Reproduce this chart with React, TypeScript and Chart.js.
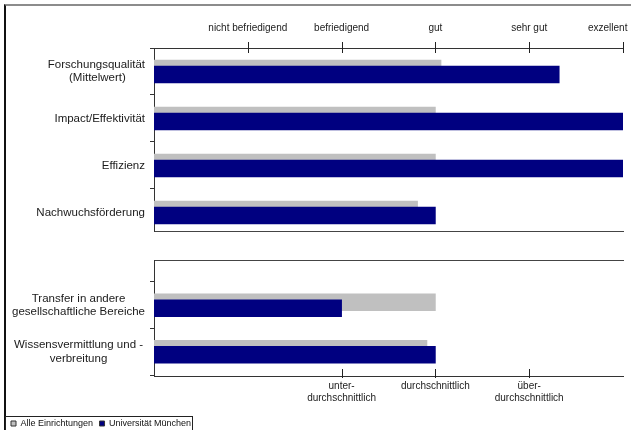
import React, { useEffect, useRef } from 'react';
import { Chart, registerables } from 'chart.js';

Chart.register(...registerables);

const FONT = 'Arial, "Liberation Sans", Helvetica, sans-serif';

// Upper panel: ratings on a five-step scale
const RATING_CATEGORIES = ['Forschungsqualität\n(Mittelwert)', 'Impact/Effektivität', 'Effizienz', 'Nachwuchsförderung'];
const RATING_ALL = [3.06, 3.0, 3.0, 2.81];
const RATING_LMU = [4.32, 5.0, 5.0, 3.0];
const RATING_TICKS = ['nicht befriedigend', 'befriedigend', 'gut', 'sehr gut', 'exzellent']; // values 1..5

// Lower panel: comparison with the average
const BENCH_CATEGORIES = ['Transfer in andere\ngesellschaftliche Bereiche', 'Wissensvermittlung und -\nverbreitung'];
const BENCH_ALL = [3.0, 2.91];
const BENCH_LMU = [2.0, 3.0];
const BENCH_TICKS = ['unter-\ndurchschnittlich', 'durchschnittlich', 'über-\ndurchschnittlich']; // values 2..4
const BENCH_FIRST = 2;

const SERIES = ['Alle Einrichtungen', 'Universität München'];
const COLORS = ['#c0c0c0', '#000080'];

const Y_FONT = { family: FONT, size: 11.5, lineHeight: 1.15 };
const Y_FONT_STRING = `11.5px ${FONT}`;
const BAR_PX = 17;
const BAR_SHIFT_PX = 3;

let measureCtx: CanvasRenderingContext2D | null = null;
// Pad shorter lines so a right-aligned multi-line label reads as centred
function centreUnderRightAlign(lines: string[]): string[] {
  if (lines.length < 2) return lines;
  if (!measureCtx) measureCtx = document.createElement('canvas').getContext('2d');
  const ctx = measureCtx!;
  ctx.font = Y_FONT_STRING;
  const widths = lines.map((l) => ctx.measureText(l).width);
  const max = Math.max(...widths);
  const nb = ctx.measureText('\u00a0').width;
  return lines.map((l, i) => l + '\u00a0'.repeat(Math.round((max - widths[i]) / 2 / nb)));
}

const isWhole = (v: number) => Math.abs(v - Math.round(v)) < 1e-6;

// tick positions: category centres plus the band boundaries between them
function bandTicks(count: number, max: number) {
  const out: { value: number }[] = [];
  for (let i = 0; i < count; i++) out.push({ value: i - 0.5 }, { value: i });
  if (count - 0.5 <= max) out.push({ value: count - 0.5 });
  return out;
}

// short tick marks crossing the value axis at labelled positions
const crossTicks = {
  id: 'crossTicks',
  afterDraw(chart: any, _a: any, opts: any) {
    if (!opts || !opts.axis) return;
    const scale = chart.scales[opts.axis];
    const ctx = chart.ctx;
    const base = scale.position === 'top' ? scale.bottom : scale.top;
    ctx.save();
    ctx.strokeStyle = opts.color;
    ctx.lineWidth = 1;
    ctx.beginPath();
    scale.ticks.forEach((t: any) => {
      const has = Array.isArray(t.label) ? t.label.length > 0 : !!t.label;
      if (!has) return;
      const x = Math.round(scale.getPixelForValue(t.value)) + 0.5;
      ctx.moveTo(x, base - opts.up);
      ctx.lineTo(x, base + opts.down);
    });
    ctx.stroke();
    ctx.restore();
  },
};

// thin frame around the legend row
const legendFrame = {
  id: 'legendFrame',
  afterDraw(chart: any, _a: any, opts: any) {
    const boxes = chart.legend && chart.legend.legendHitBoxes;
    if (!opts || !opts.enabled || !boxes || !boxes.length) return;
    const last = boxes[boxes.length - 1];
    const ctx = chart.ctx;
    const top = Math.round(boxes[0].top - 3) + 0.5;
    const right = Math.round(last.left + last.width + 1) + 0.5;
    ctx.save();
    ctx.strokeStyle = '#222';
    ctx.lineWidth = 1;
    ctx.strokeRect(opts.left + 0.5, top, right - opts.left - 0.5, chart.height);
    ctx.restore();
  },
};

type PanelOpts = {
  categories: string[];
  all: number[];
  lmu: number[];
  yMin: number;
  yMax: number;
  plotHeight: number;
  crossAlign: 'near' | 'center';
  yWidth: number;
  padding: { left: number; right: number; top: number; bottom: number };
  valuePosition: 'top' | 'bottom';
  valueHeight: number;
  valuePadding: number;
  valueLabel: (v: number) => string | string[];
  cross: { up: number; down: number };
  legend: boolean;
};

function buildPanel(p: PanelOpts): any {
  const shift = (BAR_SHIFT_PX * (p.yMax - p.yMin)) / p.plotHeight;
  const framePosition = p.valuePosition === 'top' ? 'bottom' : 'top';
  const hiddenY = (d: number) => ({
    type: 'linear',
    display: false,
    reverse: true,
    offset: false,
    grid: { offset: false },
    min: p.yMin + d,
    max: p.yMax + d,
  });
  const series = (i: number, values: number[], axis: string, order: number) => ({
    label: SERIES[i],
    data: values.map((v, k) => ({ x: v, y: k })),
    backgroundColor: COLORS[i],
    borderWidth: 0,
    xAxisID: 'x',
    yAxisID: axis,
    grouped: false,
    barThickness: BAR_PX,
    order,
  });
  return {
    type: 'bar',
    data: {
      datasets: [series(0, p.all, 'yAll', 2), series(1, p.lmu, 'yLmu', 1)],
    },
    options: {
      indexAxis: 'y',
      responsive: false,
      animation: false,
      events: [],
      layout: { padding: p.padding },
      scales: {
        x: {
          type: 'linear',
          position: p.valuePosition,
          min: 0,
          max: 5,
          afterBuildTicks: (s: any) => {
            s.ticks = [0, 1, 2, 3, 4, 5].map((value) => ({ value }));
          },
          ticks: {
            autoSkip: false,
            maxRotation: 0,
            padding: p.valuePadding,
            color: '#222',
            font: { family: FONT, size: 10, lineHeight: 1.2 },
            callback: (v: number) => p.valueLabel(v),
          },
          grid: { display: false, drawTicks: false },
          border: { color: '#333', width: 1 },
          afterFit: (s: any) => {
            s.height = p.valueHeight;
            s.paddingLeft = 0;
            s.paddingRight = 0;
          },
        },
        x2: {
          type: 'linear',
          position: framePosition,
          min: 0,
          max: 5,
          ticks: { display: false },
          grid: { display: false, drawTicks: false },
          border: { color: '#444', width: 1 },
          afterFit: (s: any) => {
            s.height = 0;
            s.paddingLeft = 0;
            s.paddingRight = 0;
          },
        },
        y: {
          type: 'linear',
          position: 'left',
          reverse: true,
          offset: false,
          min: p.yMin,
          max: p.yMax,
          afterBuildTicks: (s: any) => {
            s.ticks = bandTicks(p.categories.length, p.yMax);
          },
          ticks: {
            autoSkip: false,
            padding: 5,
            crossAlign: p.crossAlign,
            color: '#1a1a1a',
            font: Y_FONT,
            callback: (v: number) => {
              if (!isWhole(v)) return '';
              const i = Math.round(v);
              if (i < 0 || i >= p.categories.length) return '';
              const lines = p.categories[i].split('\n');
              return p.crossAlign === 'near' ? centreUnderRightAlign(lines) : lines;
            },
          },
          grid: {
            display: true,
            offset: false,
            drawOnChartArea: false,
            drawTicks: true,
            tickLength: 4,
            tickWidth: 1,
            tickColor: (c: any) => (c.tick && isWhole(c.tick.value) ? 'rgba(0,0,0,0)' : '#333'),
          },
          border: { color: '#333', width: 1 },
          afterFit: (s: any) => {
            s.width = p.yWidth;
            s.paddingTop = 0;
            s.paddingBottom = 0;
          },
        },
        yAll: hiddenY(shift),
        yLmu: hiddenY(-shift),
      },
      plugins: {
        tooltip: { enabled: false },
        legend: {
          display: p.legend,
          position: 'bottom',
          align: 'start',
          labels: {
            boxWidth: 5,
            boxHeight: 5,
            padding: 6.5,
            color: '#111',
            font: { family: FONT, size: 9 },
            sort: (a: any, b: any) => a.datasetIndex - b.datasetIndex,
            generateLabels: (chart: any) =>
              Chart.defaults.plugins.legend.labels
                .generateLabels(chart)
                .map((l: any) => ({ ...l, lineWidth: 1, strokeStyle: '#333' })),
          },
        },
        crossTicks: { axis: 'x', color: '#222', up: p.cross.up, down: p.cross.down },
        legendFrame: { enabled: p.legend, left: 5 },
      },
    },
    plugins: [crossTicks, legendFrame],
  };
}

const ratingLabel = (v: number): string => {
  if (!isWhole(v) || v < 1 || v > RATING_TICKS.length) return '';
  const i = Math.round(v) - 1;
  const text = RATING_TICKS[i];
  // keep the last label inside the canvas edge
  return i === RATING_TICKS.length - 1 ? text + '\u00a0'.repeat(11) : text;
};

const benchLabel = (v: number): string | string[] => {
  if (!isWhole(v)) return '';
  const i = Math.round(v) - BENCH_FIRST;
  if (i < 0 || i >= BENCH_TICKS.length) return '';
  return BENCH_TICKS[i].split('\n');
};

export default function App() {
  const topRef = useRef<HTMLCanvasElement>(null);
  const bottomRef = useRef<HTMLCanvasElement>(null);

  useEffect(() => {
    const top = new Chart(
      topRef.current!,
      buildPanel({
        categories: RATING_CATEGORIES,
        all: RATING_ALL,
        lmu: RATING_LMU,
        yMin: -0.5,
        yMax: 3.394,
        plotHeight: 183,
        crossAlign: 'near',
        yWidth: 154,
        padding: { left: 0, right: 8, top: 0, bottom: 9 },
        valuePosition: 'top',
        valueHeight: 48,
        valuePadding: 14,
        valueLabel: ratingLabel,
        cross: { up: 6, down: 5 },
        legend: false,
      })
    );
    const bottom = new Chart(
      bottomRef.current!,
      buildPanel({
        categories: BENCH_CATEGORIES,
        all: BENCH_ALL,
        lmu: BENCH_LMU,
        yMin: -0.973,
        yMax: 1.5215,
        plotHeight: 116,
        crossAlign: 'center',
        yWidth: 149.5,
        padding: { left: 4.5, right: 8, top: 20, bottom: 0 },
        valuePosition: 'bottom',
        valueHeight: 36.5,
        valuePadding: 4,
        valueLabel: benchLabel,
        cross: { up: 7, down: 2 },
        legend: true,
      })
    );
    return () => {
      top.destroy();
      bottom.destroy();
    };
  }, []);

  return (
    <div
      style={{
        position: 'fixed',
        left: 0,
        top: 0,
        width: 631,
        height: 430,
        overflow: 'hidden',
        background: '#fff',
      }}
    >
      <div
        style={{
          position: 'absolute',
          left: 4,
          top: 4,
          width: 700,
          height: 500,
          borderTop: '2px solid #8c8c8c',
          borderLeft: '2px solid #111',
          boxSizing: 'border-box',
        }}
      />
      <canvas ref={topRef} width={631} height={240} style={{ position: 'absolute', left: 0, top: 0 }} />
      <canvas ref={bottomRef} width={631} height={198} style={{ position: 'absolute', left: 0, top: 240 }} />
    </div>
  );
}
